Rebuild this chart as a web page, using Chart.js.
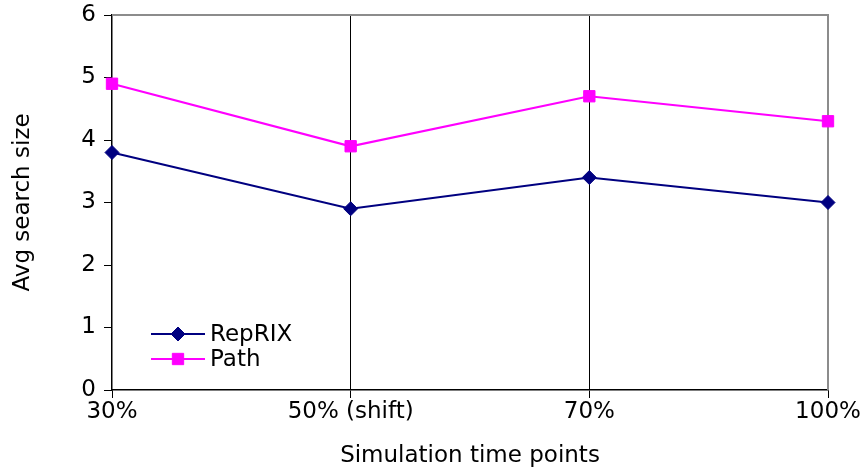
<!DOCTYPE html>
<html>
<head>
<meta charset="utf-8">
<script src="https://cdn.jsdelivr.net/npm/chart.js@4/dist/chart.umd.min.js"></script>
<style>
  html, body { margin: 0; padding: 0; background: #fff; }
  #wrap { width: 862px; height: 472px; }
</style>
</head>
<body>
<div id="wrap"><canvas id="myChart"></canvas></div>
<script>
const timePoints = ["30%", "50% (shift)", "70%", "100%"];
const reprix = [3.8, 2.9, 3.4, 3.0];
const path = [4.9, 3.9, 4.7, 4.3];

const FONT = "'DejaVu Sans', 'Liberation Sans', Arial, sans-serif";
Chart.defaults.font.family = FONT;
Chart.defaults.color = "#000";

// legend sits inside the plot, bottom-left, like the original
const insideLegend = {
  id: "insideLegend",
  afterDraw(chart) {
    const c = chart.ctx;
    const area = chart.chartArea;
    const x0 = area.left + 39;
    const rows = [334, 359];
    c.save();
    chart.data.datasets.forEach((ds, i) => {
      const y = rows[i];
      c.strokeStyle = ds.borderColor;
      c.fillStyle = ds.backgroundColor;
      c.lineWidth = 2;
      c.beginPath();
      c.moveTo(x0, y);
      c.lineTo(x0 + 54, y);
      c.stroke();
      c.lineWidth = 1;
      Chart.helpers.drawPoint(c, {
        pointStyle: ds.pointStyle,
        radius: ds.pointRadius,
        borderWidth: 1
      }, x0 + 27, y);
      c.fillStyle = "#000";
      c.font = "23px " + FONT;
      c.textBaseline = "middle";
      c.fillText(ds.label, x0 + 59, y + 1);
    });
    c.restore();
  }
};

// grey frame on top and right like the excel plot area
const frame = {
  id: "frame",
  beforeDatasetsDraw(chart) {
    const a = chart.chartArea;
    const c = chart.ctx;
    c.save();
    c.strokeStyle = "#8c8c8c";
    c.lineWidth = 2;
    c.beginPath();
    c.moveTo(a.left, a.top);
    c.lineTo(a.right, a.top);
    c.lineTo(a.right, a.bottom);
    c.stroke();
    c.restore();
  }
};

const ctx = document.getElementById("myChart");
const myChart = new Chart(ctx, {
  type: "line",
  data: {
    labels: timePoints,
    datasets: [
      {
        label: "RepRIX",
        data: reprix,
        borderColor: "#000080",
        backgroundColor: "#000080",
        borderWidth: 2.2,
        pointStyle: "rectRot",
        pointRadius: 7,
        pointBorderWidth: 1,
        tension: 0
      },
      {
        label: "Path",
        data: path,
        borderColor: "#ff00ff",
        backgroundColor: "#ff00ff",
        borderWidth: 2.2,
        pointStyle: "rect",
        pointRadius: 8,
        pointBorderWidth: 1,
        tension: 0
      }
    ]
  },
  options: {
    responsive: true,
    maintainAspectRatio: false,
    animation: false,
    layout: { padding: { top: 15, right: 34, left: 9, bottom: 2 } },
    plugins: {
      legend: { display: false },
      tooltip: { enabled: false }
    },
    scales: {
      x: {
        offset: false,
        grid: {
          color: (c) => (c.index === 0 || c.index === 3 ? "transparent" : "#000"),
          tickColor: "#000",
          tickLength: 8,
          lineWidth: 1
        },
        border: { color: "#000", width: 1.5 },
        ticks: { font: { size: 23 }, padding: 0, maxRotation: 0 },
        title: {
          display: true,
          text: "Simulation time points",
          font: { size: 23 },
          padding: { top: 8, bottom: 0 }
        },
        afterFit: (scale) => { scale.height = 80; }
      },
      y: {
        min: 0,
        max: 6,
        grid: {
          color: "transparent",
          tickColor: "#000",
          tickLength: 8
        },
        border: { color: "#000", width: 1.5 },
        ticks: { stepSize: 1, font: { size: 23 }, padding: 8 },
        title: {
          display: true,
          text: "Avg search size",
          font: { size: 23 },
          padding: { top: 0, bottom: 11 }
        },
        afterFit: (scale) => {
          scale.width = 103;
          scale.paddingTop = 0;
          scale.paddingBottom = 0;
        }
      }
    }
  },
  plugins: [frame, insideLegend]
});
</script>
</body>
</html>
